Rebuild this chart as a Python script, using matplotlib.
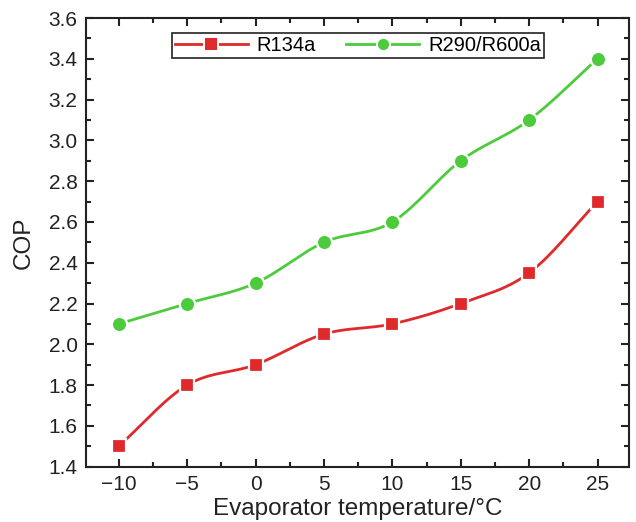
import matplotlib
matplotlib.use("Agg")
import matplotlib.pyplot as plt
import numpy as np

temps = [-10, -5, 0, 5, 10, 15, 20, 25]
cop_r134a = [1.5, 1.8, 1.9, 2.05, 2.1, 2.2, 2.35, 2.7]
cop_r290 = [2.1, 2.2, 2.3, 2.5, 2.6, 2.9, 3.1, 3.4]


def smooth(x, y, n=30):
    # Catmull-Rom style cubic Hermite through the points (drawing only)
    x = np.asarray(x, float)
    y = np.asarray(y, float)
    m = np.gradient(y, x)
    xs, ys = [], []
    for i in range(len(x) - 1):
        h = x[i + 1] - x[i]
        t = np.linspace(0, 1, n, endpoint=False)
        h00 = 2 * t**3 - 3 * t**2 + 1
        h10 = t**3 - 2 * t**2 + t
        h01 = -2 * t**3 + 3 * t**2
        h11 = t**3 - t**2
        xs.append(x[i] + t * h)
        ys.append(h00 * y[i] + h10 * h * m[i] + h01 * y[i + 1] + h11 * h * m[i + 1])
    xs.append([x[-1]])
    ys.append([y[-1]])
    return np.concatenate(xs), np.concatenate(ys)


plt.rcParams['font.family'] = ['Liberation Sans', 'DejaVu Sans']

fig = plt.figure(figsize=(6.36, 5.22), dpi=100)
ax = fig.add_axes([0.135, 0.106, 0.854, 0.8595])

red = '#e0292b'
green = '#4ccc3c'

for y, c, mk, ms, lab in [(cop_r134a, red, 's', 10.5, 'R134a'),
                          (cop_r290, green, 'o', 11, 'R290/R600a')]:
    sx, sy = smooth(temps, y)
    ax.plot(sx, sy, color=c, lw=2)
    ax.plot(temps, y, ls='none', marker=mk, ms=ms, color=c, mec='white', mew=1.6)
    ax.plot([], [], color=c, lw=2, marker=mk, ms=9.5, mec='white', mew=1.4, label=lab)

ax.set_xlim(-12.4, 27.3)
ax.set_ylim(1.4, 3.6)
ax.set_xticks(temps)
ax.set_xticklabels(['\u221210', '\u22125', '0', '5', '10', '15', '20', '25'])
ax.set_yticks(np.arange(1.4, 3.61, 0.2))
ax.set_yticklabels([f'{v:.1f}' for v in np.arange(1.4, 3.61, 0.2)])
ax.minorticks_on()
ax.set_xticks(np.arange(-7.5, 25, 5), minor=True)
ax.set_yticks(np.arange(1.5, 3.6, 0.2), minor=True)
ax.tick_params(which='both', direction='in', top=True, right=True, width=1.5, colors='#222222')
ax.tick_params(which='major', length=6, labelsize=15, pad=6)
ax.tick_params(which='minor', length=3.5)
for s in ax.spines.values():
    s.set_linewidth(1.5)
    s.set_color('#222222')

ax.set_xlabel('Evaporator temperature/\u00b0C', fontsize=17.5, color='#222222', labelpad=3)
ax.set_ylabel('COP', fontsize=17.5, color='#222222', labelpad=10)

leg = ax.legend(loc='upper center', ncol=2, fontsize=14.5, fancybox=False,
                edgecolor='#222222', framealpha=1, handlelength=3.6,
                columnspacing=1.5, handletextpad=0.45, borderpad=0.15,
                borderaxespad=0, bbox_to_anchor=(0.501, 0.967))
leg.get_frame().set_linewidth(1.2)

fig.savefig('out.png', dpi=100)
